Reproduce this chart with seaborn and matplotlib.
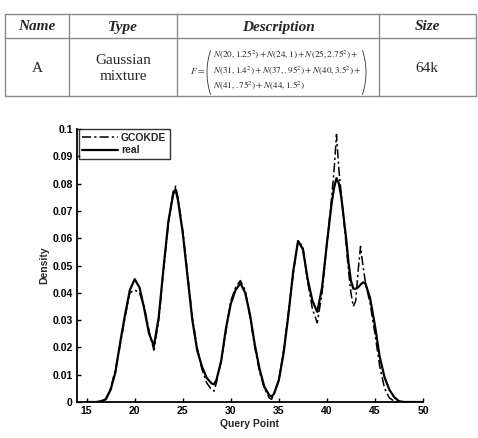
import numpy as np
import pandas as pd
import matplotlib
matplotlib.use("Agg")
import matplotlib.pyplot as plt
from matplotlib.lines import Line2D
import seaborn as sns

# values
query_point = [15, 16, 16.5, 17, 17.5, 18, 18.5, 19, 19.5, 20, 20.5, 21, 21.5, 22,
               22.5, 23, 23.5, 24, 24.25, 24.5, 25, 25.5, 26, 26.5, 27, 27.5, 28,
               28.25, 28.5, 29, 29.5, 30, 30.5, 31, 31.5, 32, 32.5, 33, 33.5, 34,
               34.25, 34.5, 35, 35.5, 36, 36.5, 37, 37.5, 38, 38.5, 39, 39.5, 40,
               40.5, 40.75, 41, 41.25, 41.5, 42, 42.25, 42.5, 42.75, 43, 43.25,
               43.5, 43.75, 44, 44.5, 45, 45.5, 46, 46.5, 47, 47.5, 48, 50]

real_density = [0, 0, 0.0003, 0.001, 0.0045, 0.011, 0.022, 0.032, 0.041, 0.045,
                0.042, 0.034, 0.025, 0.0205, 0.031, 0.049, 0.066, 0.076, 0.078,
                0.074, 0.062, 0.046, 0.030, 0.019, 0.013, 0.0088, 0.0068, 0.0065,
                0.008, 0.015, 0.027, 0.036, 0.041, 0.0435, 0.040, 0.032, 0.021,
                0.012, 0.0055, 0.0025, 0.002, 0.003, 0.008, 0.018, 0.032, 0.048,
                0.059, 0.056, 0.045, 0.037, 0.033, 0.042, 0.058, 0.073, 0.0785,
                0.082, 0.080, 0.075, 0.060, 0.051, 0.0445, 0.0415, 0.0415, 0.042,
                0.043, 0.0438, 0.0435, 0.038, 0.028, 0.0165, 0.009, 0.0045,
                0.0018, 0.0003, 0, 0]

gcokde_density = [0, 0, 0.0002, 0.001, 0.005, 0.012, 0.021, 0.031, 0.040, 0.041,
                  0.040, 0.035, 0.026, 0.019, 0.030, 0.048, 0.065, 0.077, 0.079,
                  0.075, 0.063, 0.047, 0.031, 0.020, 0.012, 0.007, 0.0045, 0.004,
                  0.007, 0.015, 0.026, 0.037, 0.042, 0.0445, 0.041, 0.031, 0.020,
                  0.011, 0.005, 0.0015, 0.001, 0.003, 0.008, 0.019, 0.033, 0.047,
                  0.059, 0.057, 0.044, 0.034, 0.029, 0.040, 0.058, 0.075, 0.085,
                  0.098, 0.085, 0.076, 0.058, 0.048, 0.040, 0.035, 0.037, 0.048,
                  0.057, 0.050, 0.044, 0.036, 0.025, 0.013, 0.005, 0.0015, 0.0003,
                  0, 0, 0]

x_ticks = [15, 20, 25, 30, 35, 40, 45, 50]
y_ticks = [0, 0.01, 0.02, 0.03, 0.04, 0.05, 0.06, 0.07, 0.08, 0.09, 0.1]
y_tick_labels = ['0', '0.01', '0.02', '0.03', '0.04', '0.05', '0.06', '0.07',
                 '0.08', '0.09', '0.1']

table_header = ['Name', 'Type', 'Description', 'Size']
table_row = ['A', 'Gaussian\nmixture', '64k']
formula_lines = [r'$N(20,1.25^2)+N(24,1)+N(25,2.75^2)+$',
                 r'$N(31,1.4^2)+N(37,.95^2)+N(40,3.5^2)+$',
                 r'$N(41,.75^2)+N(44,1.5^2)$']

W, H = 478, 438


def fx(px):
    return px / W


def fy(py):
    return 1 - py / H


sns.set_style('ticks')
plt.rcParams['font.family'] = ['Liberation Sans', 'DejaVu Sans']
plt.rcParams['mathtext.fontset'] = 'stix'

fig = plt.figure(figsize=(W / 100, H / 100), dpi=100)

# ---- table on top ----
grey = '#8c8c8c'
for py in [14, 38, 96]:
    fig.add_artist(Line2D([fx(5), fx(476)], [fy(py), fy(py)], color=grey, lw=1))
for px in [5, 69, 177, 379, 476]:
    fig.add_artist(Line2D([fx(px), fx(px)], [fy(14), fy(96)], color=grey, lw=1))

serif = ['Liberation Serif', 'DejaVu Serif']
for name, px in zip(table_header, [37, 123, 278, 427]):
    fig.text(fx(px), fy(27), name, ha='center', va='center', family=serif,
             fontsize=11, fontweight='bold', fontstyle='italic')
for val, px in zip(table_row, [37, 123, 427]):
    fig.text(fx(px), fy(69), val, ha='center', va='center', family=serif,
             fontsize=11, linespacing=1.3)

fig.text(fx(198), fy(71), r'$F=$', ha='center', va='center', fontsize=6.8)
for line, py in zip(formula_lines, [55, 70.5, 86]):
    fig.text(fx(213), fy(py), line, ha='left', va='center', fontsize=6.6)

t = np.linspace(-1, 1, 40)
fig.add_artist(Line2D(fx(207 + 3.5 * t ** 2), fy(72.5 + 22 * t), color='#333333', lw=0.6))
fig.add_artist(Line2D(fx(366 - 3.5 * t ** 2), fy(72.5 + 22 * t), color='#333333', lw=0.6))

# ---- density plot ----
ax = fig.add_axes([fx(77), 1 - 402 / H, (423 - 77) / W, (402 - 129) / H])

df = pd.DataFrame({'query_point': query_point,
                   'GCOKDE': gcokde_density,
                   'real': real_density})

sns.lineplot(data=df, x='query_point', y='GCOKDE', ax=ax, color='black',
             linestyle=(0, (6, 2, 1.5, 2)), linewidth=1.1, label='GCOKDE')
sns.lineplot(data=df, x='query_point', y='real', ax=ax, color='black',
             linestyle='-', linewidth=1.6, label='real')

ax.set_xlim(14, 50)
ax.set_ylim(0, 0.1)
ax.set_xticks(x_ticks)
ax.set_xticklabels([str(v) for v in x_ticks])
ax.set_yticks(y_ticks)
ax.set_yticklabels(y_tick_labels)
ax.tick_params(direction='in', length=3, width=1, labelsize=7.5, pad=3,
               colors='black')
for lab in ax.get_xticklabels() + ax.get_yticklabels():
    lab.set_fontweight('bold')

sns.despine(ax=ax)
for side in ['left', 'bottom']:
    ax.spines[side].set_linewidth(1.3)
    ax.spines[side].set_color('black')

ax.set_xlabel('Query Point', fontsize=7.5, fontweight='bold', labelpad=2)
ax.set_ylabel('Density', fontsize=7.5, fontweight='bold', labelpad=2)

leg = ax.legend(loc='upper left', bbox_to_anchor=(0.005, 1.0), fontsize=7.5,
                frameon=True, fancybox=False, borderpad=0.35, labelspacing=0.25,
                handlelength=3.4, handletextpad=0.3, borderaxespad=0)
leg.get_frame().set_edgecolor('black')
leg.get_frame().set_linewidth(1.0)
for txt in leg.get_texts():
    txt.set_fontweight('bold')

fig.savefig('out.png', dpi=100)
